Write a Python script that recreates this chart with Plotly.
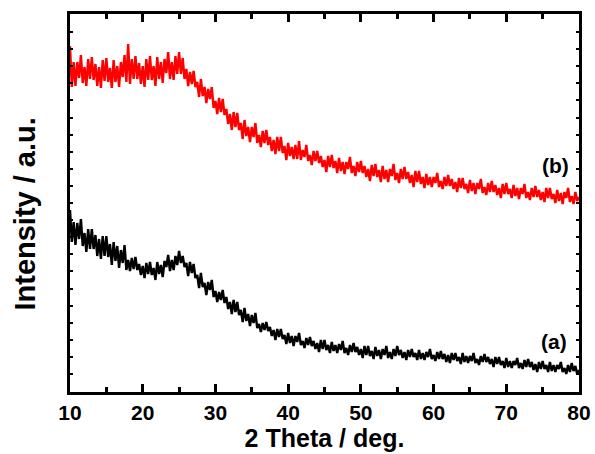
import plotly.graph_objects as go

THETA_START = 10.0
THETA_STEP = 0.25

# (b) red pattern, intensity (a.u.), one row per degree: d, d+.25, d+.5, d+.75
intensity_b = [
    346, 305, 330, 306,
    330, 314, 337, 309,
    325, 306, 333, 313,
    335, 312, 328, 306,
    325, 304, 332, 311,
    334, 310, 324, 304,
    332, 310, 326, 305,
    330, 315, 337, 310,
    348, 308, 333, 313,
    336, 313, 329, 308,
    326, 305, 333, 312,
    336, 312, 326, 306,
    335, 313, 330, 309,
    333, 319, 340, 313,
    330, 312, 336, 318,
    340, 318, 334, 313,
    323, 306, 320, 308,
    321, 305, 310, 295,
    313, 296, 305, 289,
    303, 293, 305, 284,
    291, 278, 294, 280,
    293, 277, 283, 268,
    278, 262, 280, 265,
    279, 262, 269, 253,
    272, 256, 265, 250,
    265, 255, 269, 249,
    257, 245, 261, 249,
    262, 247, 255, 241,
    252, 238, 255, 241,
    255, 239, 246, 232,
    249, 236, 245, 233,
    247, 233, 251, 232,
    242, 235, 247, 231,
    237, 227, 241, 231,
    241, 229, 236, 225,
    232, 220, 236, 225,
    237, 224, 231, 219,
    234, 221, 230, 218,
    230, 223, 235, 219,
    226, 216, 230, 220,
    231, 219, 226, 215,
    223, 211, 227, 216,
    228, 215, 222, 210,
    226, 213, 222, 210,
    223, 216, 228, 212,
    219, 209, 223, 213,
    225, 213, 220, 209,
    217, 205, 221, 210,
    221, 208, 215, 204,
    218, 207, 215, 205,
    215, 209, 219, 205,
    211, 203, 215, 206,
    217, 206, 213, 203,
    210, 200, 214, 204,
    214, 203, 208, 199,
    212, 201, 209, 198,
    209, 203, 213, 199,
    205, 197, 209, 200,
    211, 200, 207, 197,
    204, 194, 208, 198,
    209, 198, 203, 194,
    207, 196, 204, 193,
    204, 198, 208, 194,
    200, 192, 204, 195,
    206, 195, 202, 192,
    200, 190, 204, 194,
    204, 193, 198, 189,
    202, 191, 199, 188,
    200, 194, 204, 190,
    196, 188, 200, 191,
    195,
]

# (a) black pattern
intensity_a = [
    182, 150, 170, 147,
    169, 153, 173, 146,
    159, 140, 163, 143,
    163, 143, 157, 136,
    153, 133, 156, 136,
    156, 135, 148, 127,
    150, 131, 146, 124,
    142, 129, 147, 122,
    132, 121, 134, 123,
    135, 122, 128, 117,
    126, 114, 129, 118,
    130, 117, 124, 112,
    130, 118, 127, 115,
    131, 125, 137, 121,
    132, 122, 136, 127,
    141, 129, 136, 125,
    129, 116, 130, 119,
    128, 114, 117, 104,
    119, 105, 109, 97,
    110, 102, 112, 95,
    101, 90, 100, 92,
    102, 89, 95, 83,
    90, 78, 92, 80,
    90, 77, 82, 70,
    84, 71, 78, 66,
    77, 69, 79, 64,
    68, 60, 69, 62,
    70, 61, 65, 56,
    62, 52, 63, 55,
    63, 53, 57, 48,
    59, 49, 56, 46,
    56, 50, 59, 47,
    51, 44, 54, 47,
    55, 46, 51, 43,
    49, 40, 52, 43,
    52, 42, 47, 39,
    50, 41, 47, 39,
    48, 42, 51, 39,
    44, 37, 47, 40,
    49, 40, 45, 37,
    43, 34, 46, 37,
    46, 36, 41, 33,
    45, 36, 42, 33,
    43, 37, 46, 34,
    40, 33, 43, 36,
    46, 37, 42, 34,
    40, 32, 42, 35,
    43, 35, 39, 32,
    42, 33, 39, 32,
    40, 35, 43, 33,
    37, 31, 40, 33,
    41, 33, 38, 30,
    37, 29, 39, 32,
    39, 31, 35, 28,
    39, 30, 36, 29,
    36, 31, 39, 29,
    33, 27, 36, 30,
    38, 30, 35, 28,
    33, 25, 35, 28,
    35, 27, 31, 24,
    34, 25, 31, 24,
    31, 27, 34, 24,
    29, 23, 32, 25,
    33, 25, 30, 22,
    28, 20, 30, 23,
    31, 23, 27, 20,
    30, 21, 27, 20,
    27, 23, 30, 20,
    24, 18, 27, 20,
    29, 21, 26, 18,
    22,
]

x_tick_vals = [10, 20, 30, 40, 50, 60, 70, 80]
x_tick_text = ["10", "20", "30", "40", "50", "60", "70", "80"]

theta_a = [THETA_START + THETA_STEP * i for i in range(len(intensity_a))]
theta_b = [THETA_START + THETA_STEP * i for i in range(len(intensity_b))]

FONT = "Arial, 'Liberation Sans', sans-serif"

fig = go.Figure()
fig.add_trace(go.Scatter(x=theta_a, y=intensity_a, mode="lines",
                         line=dict(color="#000000", width=2.4), showlegend=False))
fig.add_trace(go.Scatter(x=theta_b, y=intensity_b, mode="lines",
                         line=dict(color="#ff0000", width=2.4), showlegend=False))

fig.add_annotation(x=76.6, y=51, text="<b>(a)</b>", showarrow=False,
                   font=dict(family=FONT, size=21, color="black"),
                   xanchor="center", yanchor="middle")
fig.add_annotation(x=76.7, y=227, text="<b>(b)</b>", showarrow=False,
                   font=dict(family=FONT, size=21, color="black"),
                   xanchor="center", yanchor="middle")
# y-axis title placed as a rotated paper annotation
fig.add_annotation(xref="paper", yref="paper", x=-0.088, y=0.47,
                   text="<b>Intensity / a.u.</b>", textangle=-90, showarrow=False,
                   font=dict(family=FONT, size=29, color="black"),
                   xanchor="center", yanchor="middle")

fig.update_layout(
    width=595, height=454,
    margin=dict(l=70, r=16, t=14, b=62),
    paper_bgcolor="white", plot_bgcolor="white",
    font=dict(family=FONT, color="black"),
)
fig.update_xaxes(
    range=[10, 80], tickvals=x_tick_vals, ticktext=["<b>%s</b>" % t for t in x_tick_text],
    ticks="inside", ticklen=8, tickwidth=3, tickcolor="black",
    minor=dict(dtick=5, tick0=0, ticks="inside", ticklen=5, tickwidth=3, tickcolor="black", showgrid=False),
    showline=True, linewidth=3, linecolor="black", mirror="ticks",
    showgrid=False, zeroline=False, automargin=False,
    tickfont=dict(family=FONT, size=21, color="black"),
    title=dict(text="<b>2 Theta / deg.</b>", font=dict(family=FONT, size=25, color="black"), standoff=2),
)
fig.update_yaxes(
    range=[0, 378], tick0=360, dtick=17.1, showticklabels=False,
    ticks="inside", ticklen=3, tickwidth=2, tickcolor="black",
    showline=True, linewidth=3, linecolor="black", mirror="ticks",
    showgrid=False, zeroline=False, automargin=False,
)

fig.write_html("out.html")
